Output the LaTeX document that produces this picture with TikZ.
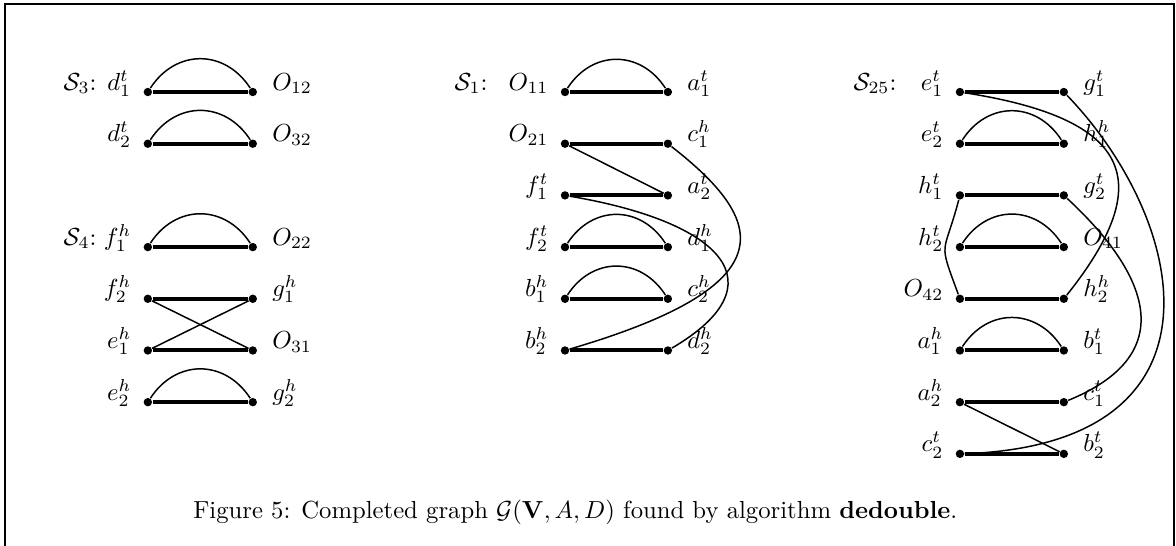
\documentclass[tikz,border=0pt]{standalone}
\usepackage{amsmath,amssymb}
\usepackage{tikz}
\tikzstyle{dot} = [circle, fill=black, inner sep=0pt, minimum size=3.4pt]
\tikzstyle{mate} = [line width=1.6pt]
\tikzstyle{link} = [line width=0.6pt]
\tikzstyle{hump} = [out=57, in=123, looseness=1.2]
\tikzstyle{lft} = [anchor=base east, inner sep=0pt, xshift=-6.5pt, yshift=0.8pt]
\tikzstyle{rgt} = [anchor=base west, inner sep=0pt, xshift=7.7pt, yshift=0.8pt]
\tikzstyle{setname} = [anchor=base east, inner sep=0pt, yshift=0.8pt]
\begin{document}
\begin{tikzpicture}[x=0.736cm, y=0.736cm]
\useasboundingbox (0,0) rectangle (22.75,-10.56);
% Frame
\draw[line width=0.8pt] (0.097,-10.56) -- (0.097,-0.077) -- (22.72,-0.077) -- (22.72,-10.56);

% Set S3 and S4
\node[setname] (s3) at (1.876,-1.78) {$\mathcal{S}_3$:};
\node[setname] (s4) at (1.876,-4.78) {$\mathcal{S}_4$:};
\node[dot] (d1t) at (2.86,-1.78) {};
\node[dot] (O12) at (4.89,-1.78) {};
\node[dot] (d2t) at (2.86,-2.78) {};
\node[dot] (O32) at (4.89,-2.78) {};
\node[dot] (f1h) at (2.86,-4.78) {};
\node[dot] (O22) at (4.89,-4.78) {};
\node[dot] (f2h) at (2.86,-5.78) {};
\node[dot] (g1h) at (4.89,-5.78) {};
\node[dot] (e1h) at (2.86,-6.78) {};
\node[dot] (O31) at (4.89,-6.78) {};
\node[dot] (e2h) at (2.86,-7.78) {};
\node[dot] (g2h) at (4.89,-7.78) {};
\node[lft] (d1t-l) at (d1t) {$d_1^t$};
\node[rgt] (O12-l) at (O12) {$O_{12}$};
\node[lft] (d2t-l) at (d2t) {$d_2^t$};
\node[rgt] (O32-l) at (O32) {$O_{32}$};
\node[lft] (f1h-l) at (f1h) {$f_1^h$};
\node[rgt] (O22-l) at (O22) {$O_{22}$};
\node[lft] (f2h-l) at (f2h) {$f_2^h$};
\node[rgt] (g1h-l) at (g1h) {$g_1^h$};
\node[lft] (e1h-l) at (e1h) {$e_1^h$};
\node[rgt] (O31-l) at (O31) {$O_{31}$};
\node[lft] (e2h-l) at (e2h) {$e_2^h$};
\node[rgt] (g2h-l) at (g2h) {$g_2^h$};

% Set S1
\node[setname] (s1) at (9.44,-1.78) {$\mathcal{S}_1$:};
\node[dot] (O11) at (10.93,-1.78) {};
\node[dot] (a1t) at (12.92,-1.78) {};
\node[dot] (O21) at (10.93,-2.78) {};
\node[dot] (c1h) at (12.92,-2.78) {};
\node[dot] (f1t) at (10.93,-3.78) {};
\node[dot] (a2t) at (12.92,-3.78) {};
\node[dot] (f2t) at (10.93,-4.78) {};
\node[dot] (d1h) at (12.92,-4.78) {};
\node[dot] (b1h) at (10.93,-5.78) {};
\node[dot] (c2h) at (12.92,-5.78) {};
\node[dot] (b2h) at (10.93,-6.78) {};
\node[dot] (d2h) at (12.92,-6.78) {};
\node[lft] (O11-l) at (O11) {$O_{11}$};
\node[rgt] (a1t-l) at (a1t) {$a_1^t$};
\node[lft] (O21-l) at (O21) {$O_{21}$};
\node[rgt] (c1h-l) at (c1h) {$c_1^h$};
\node[lft] (f1t-l) at (f1t) {$f_1^t$};
\node[rgt] (a2t-l) at (a2t) {$a_2^t$};
\node[lft] (f2t-l) at (f2t) {$f_2^t$};
\node[rgt] (d1h-l) at (d1h) {$d_1^h$};
\node[lft] (b1h-l) at (b1h) {$b_1^h$};
\node[rgt] (c2h-l) at (c2h) {$c_2^h$};
\node[lft] (b2h-l) at (b2h) {$b_2^h$};
\node[rgt] (d2h-l) at (d2h) {$d_2^h$};

% Set S25
\node[setname] (s25) at (17.35,-1.78) {$\mathcal{S}_{25}$:};
\node[dot] (e1t) at (18.57,-1.78) {};
\node[dot] (g1t) at (20.58,-1.78) {};
\node[dot] (e2t) at (18.57,-2.78) {};
\node[dot] (h1h) at (20.58,-2.78) {};
\node[dot] (h1t) at (18.57,-3.78) {};
\node[dot] (g2t) at (20.58,-3.78) {};
\node[dot] (h2t) at (18.57,-4.78) {};
\node[dot] (O41) at (20.58,-4.78) {};
\node[dot] (O42) at (18.57,-5.78) {};
\node[dot] (h2h) at (20.58,-5.78) {};
\node[dot] (a1h) at (18.57,-6.78) {};
\node[dot] (b1t) at (20.58,-6.78) {};
\node[dot] (a2h) at (18.57,-7.78) {};
\node[dot] (c1t) at (20.58,-7.78) {};
\node[dot] (c2t) at (18.57,-8.78) {};
\node[dot] (b2t) at (20.58,-8.78) {};
\node[lft] (e1t-l) at (e1t) {$e_1^t$};
\node[rgt] (g1t-l) at (g1t) {$g_1^t$};
\node[lft] (e2t-l) at (e2t) {$e_2^t$};
\node[rgt] (h1h-l) at (h1h) {$h_1^h$};
\node[lft] (h1t-l) at (h1t) {$h_1^t$};
\node[rgt] (g2t-l) at (g2t) {$g_2^t$};
\node[lft] (h2t-l) at (h2t) {$h_2^t$};
\node[rgt] (O41-l) at (O41) {$O_{41}$};
\node[lft] (O42-l) at (O42) {$O_{42}$};
\node[rgt] (h2h-l) at (h2h) {$h_2^h$};
\node[lft] (a1h-l) at (a1h) {$a_1^h$};
\node[rgt] (b1t-l) at (b1t) {$b_1^t$};
\node[lft] (a2h-l) at (a2h) {$a_2^h$};
\node[rgt] (c1t-l) at (c1t) {$c_1^t$};
\node[lft] (c2t-l) at (c2t) {$c_2^t$};
\node[rgt] (b2t-l) at (b2t) {$b_2^t$};

% Matching edges
\draw[mate] (d1t) -- (O12);
\draw[mate] (d2t) -- (O32);
\draw[mate] (f1h) -- (O22);
\draw[mate] (f2h) -- (g1h);
\draw[mate] (e1h) -- (O31);
\draw[mate] (e2h) -- (g2h);
\draw[mate] (O11) -- (a1t);
\draw[mate] (O21) -- (c1h);
\draw[mate] (f1t) -- (a2t);
\draw[mate] (f2t) -- (d1h);
\draw[mate] (b1h) -- (c2h);
\draw[mate] (b2h) -- (d2h);
\draw[mate] (e1t) -- (g1t);
\draw[mate] (e2t) -- (h1h);
\draw[mate] (h1t) -- (g2t);
\draw[mate] (h2t) -- (O41);
\draw[mate] (O42) -- (h2h);
\draw[mate] (a1h) -- (b1t);
\draw[mate] (a2h) -- (c1t);
\draw[mate] (c2t) -- (b2t);

% Humps
\draw[link] (d1t) to[hump] (O12);
\draw[link] (d2t) to[hump] (O32);
\draw[link] (f1h) to[hump] (O22);
\draw[link] (e2h) to[hump] (g2h);
\draw[link] (O11) to[hump] (a1t);
\draw[link] (f2t) to[hump] (d1h);
\draw[link] (b1h) to[hump] (c2h);
\draw[link] (e2t) to[hump] (h1h);
\draw[link] (h2t) to[hump] (O41);
\draw[link] (a1h) to[hump] (b1t);

% Cross links
\draw[link] (f2h) -- (O31);
\draw[link] (e1h) -- (g1h);
\draw[link] (O21) -- (a2t);
\draw[link] (c1h) .. controls (14.8,-4.25) and (15.3,-5.5) .. (b2h);
\draw[link] (f1t) .. controls (14.0,-4.3) and (15.1,-5.5) .. (d2h);
\draw[link] (e1t) .. controls (21.9,-2.3) and (22.4,-3.5) .. (h2h);
\draw[link] (g1t) .. controls (23.0,-4.3) and (23.9,-8.6) .. (c2t);
\draw[link] (h1t) .. controls (18.25,-4.99) and (18.14,-4.61) .. (O42);
\draw[link] (g2t) .. controls (21.9,-5.0) and (23.1,-6.75) .. (c1t);
\draw[link] (a2h) -- (b2t);

% Caption
\node (cap) at (11.13,-9.92) {Figure 5: Completed graph $\mathcal{G}(\mathbf{V},A,D)$ found by algorithm \textbf{dedouble}.};
\end{tikzpicture}
\end{document}
